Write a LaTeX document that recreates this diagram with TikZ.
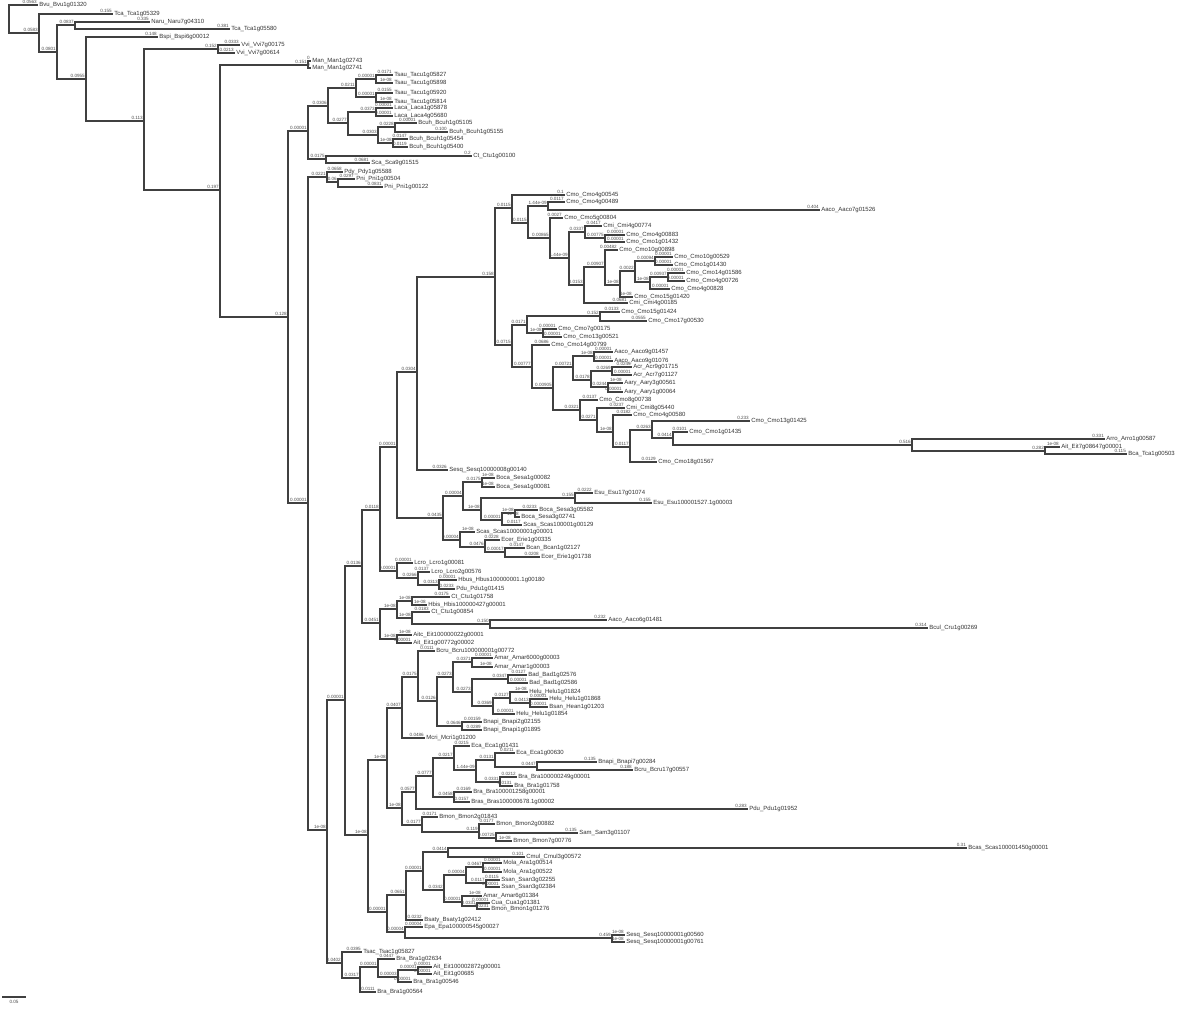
\documentclass[tikz,border=0pt]{standalone}
\usepackage{fontspec}
\setmainfont{Liberation Sans}

\begin{document}
\begin{tikzpicture}[x=0.5pt,y=-0.5pt]
 \tikzstyle{every path}=[line width=0.6pt]

\tikzstyle{branch}=[draw=black!75]
\tikzstyle{redmark}=[fill=red!80!black,inner sep=0pt,minimum size=1.1pt]
\tikzstyle{bluemark}=[fill=blue!80!black,inner sep=0pt,minimum width=1pt,minimum height=0.9pt]
\tikzstyle{tnode}=[inner sep=0pt,outer sep=0pt,minimum size=0pt,label={[redmark]below:{}}]
\tikzstyle{tipname}=[anchor=west,inner sep=0.4pt,font=\fontsize{3.0}{3.4}\selectfont,text=black!80,label={[bluemark]west:{}}]
\tikzstyle{blen}=[anchor=south east,inner sep=0.3pt,font=\fontsize{2.3}{2.6}\selectfont,text=black!70]

\useasboundingbox (0,0) rectangle (1200,1008);
\fill[white] (0,0) rectangle (1200,1008);

%% inner nodes of the tree
\foreach \nm/\px/\py in {root/9/19, a/39/33, b/57/52, c/75/25, d/86/79, e/144/121, f/218/49, g/220/190,
  h/308/65, i/288/317, j/308/131, k/328/106, l/356/88, la/376/79, lb/376/97, m/348/123, ma/376/112,
  mb/378/135, mc/395/127, md/393/143, n/326/159, p/308/503, o/327/177, oa/338/182, q/327/830,
  r/345/700, x1/362/566, w1/380/510, v1/397/447, u1/417/372,
  c0/495/277, c1/512/208, c3/528/223, c4/548/206, c5/550/238, c6/569/258, c7/585/232, c9/605/238,
  c8/584/285, c10/605/267, c11/620/285, c12/635/271, c13/655/261, c14/650/282, c15/668/277,
  c2/512/345, c16/527/325, c18/600/316, c19/543/333, c17/532/367, c20/553/388, c21/573/367,
  c23/594/356, c24/591/380, c25/612/371, c26/608/387, c22/580/410, c27/597/420, c28/613/432,
  c29/630/447, c30/652/430, c31/673/438, c32/912/445, c33/1045/451,
  v2/443/518, v3/463/496, v5/482/482, v6/481/510, v7/575/498, v8/502/520, v9/515/513,
  v4/460/540, v10/485/547, v11/505/552, l1x/397/571, l2x/418/578, l3x/439/585,
  y1/380/623, y2/397/609, y4/412/601, y5/412/618, y6/490/624, y3/397/639,
  s/368/835, t/387/760, v/402/708, xx/418/677, yy/437/701, z/453/677, z1/472/662, z2/472/692,
  z4/508/679, z3/493/706, z5/510/698, z6/530/703, aa/462/726,
  w/402/808, w0/416/792, wa/433/776, wb/454/758, wd/476/770, we/495/760, wg/537/767, wf/500/782,
  wc/454/797, w9/422/825, w10/479/832, w11/496/838,
  u/387/912, ua/406/895, uc/423/871, ud/448/852, ue/444/890, uf/466/875, uh/483/867, ui/486/883,
  ug/462/902, uj/477/906, ub/405/932, uk/612/938,
  q2/342/963, q3/360/978, q4/378/967, q5/398/977, q6/418/970}
  \node[tnode] (\nm) at (\px,\py) {};

%% leaves
\foreach \nm/\px/\py/\txt in {t01/38/5/Bvu\_Bvu1g01320, t02/113/14/Tca\_Tca1g05329, t03/150/22/Naru\_Naru7g04310,
  t04/230/29/Tca\_Tca1g05580, t05/158/37/Bspi\_Bspi6g00012, t06/240/45/Vvi\_Vvi7g00175, t07/235/53/Vvi\_Vvi7g00614,
  t08/311/61/Man\_Man1g02743, t09/311/68/Man\_Man1g02741, t10/393/75/Tsau\_Tacu1g05827, t11/393/83/Tsau\_Tacu1g05898,
  t12/393/93/Tsau\_Tacu1g05920, t13/393/102/Tsau\_Tacu1g05814, t14/393/108/Laca\_Laca1g05878,
  t15/393/116/Laca\_Laca4g05680, t16/417/123/Bcuh\_Bcuh1g05105, t17/448/132/Bcuh\_Bcuh1g05155,
  t18/408/139/Bcuh\_Bcuh1g05454, t19/408/147/Bcuh\_Bcuh1g05400, t20/472/156/Ct\_Ctu1g00100,
  t21/370/163/Sca\_Sca9g01515, t22/343/172/Pdy\_Pdy1g05588, t23/355/179/Pni\_Pni1g00504, t24/383/187/Pni\_Pni1g00122,
  t25/565/195/Cmo\_Cmo4g00545, t26/565/202/Cmo\_Cmo4g00489, t27/820/210/Aaco\_Aaco7g01526,
  t28/563/218/Cmo\_Cmo5g00804, t29/602/226/Cmi\_Cmi4g00774, t30/625/235/Cmo\_Cmo4g00883,
  t31/625/242/Cmo\_Cmo1g01432, t32/618/250/Cmo\_Cmo10g00898, t33/673/257/Cmo\_Cmo10g00529,
  t34/673/265/Cmo\_Cmo1g01430, t35/685/273/Cmo\_Cmo14g01586, t36/685/281/Cmo\_Cmo4g00726,
  t37/670/289/Cmo\_Cmo4g00828, t38/633/297/Cmo\_Cmo15g01420, t39/628/303/Cmi\_Cmi4g00185,
  t40/620/312/Cmo\_Cmo15g01424, t41/647/321/Cmo\_Cmo17g00530, t42/557/329/Cmo\_Cmo7g00175,
  t43/562/337/Cmo\_Cmo13g00521, t44/550/345/Cmo\_Cmo14g00799, t45/613/352/Aaco\_Aaco9g01457,
  t46/613/361/Aaco\_Aaco9g01076, t47/632/367/Acr\_Acr9g01715, t48/632/375/Acr\_Acr7g01127,
  t49/623/383/Aary\_Aary3g00561, t50/623/392/Aary\_Aary1g00064, t51/598/400/Cmo\_Cmo8g00738,
  t52/625/408/Cmi\_Cmi8g05440, t53/632/415/Cmo\_Cmo4g00580, t54/750/421/Cmo\_Cmo13g01425,
  t55/688/432/Cmo\_Cmo1g01435, t56/1105/439/Arro\_Arro1g00587, t57/1060/447/Ait\_Eit7g08647g00001,
  t58/1127/454/Bca\_Tca1g00503, t59/657/462/Cmo\_Cmo18g01567, t60/448/470/Sesq\_Sesq10000008g00140,
  t61/495/478/Boca\_Sesa1g00082, t62/495/487/Boca\_Sesa1g00081, t63/593/493/Esu\_Esu17g01074,
  t64/652/503/Esu\_Esu100001527.1g00003, t65/538/510/Boca\_Sesa3g05582, t66/520/517/Boca\_Sesa3g02741,
  t67/522/525/Scas\_Scas100001g00129, t68/475/532/Scas\_Scas10000001g00001, t69/500/540/Ecer\_Erie1g00335,
  t70/525/548/Bcan\_Bcan1g02127, t71/540/557/Ecer\_Erie1g01738, t72/413/563/Lcro\_Lcro1g00081,
  t73/430/572/Lcro\_Lcro2g00576, t74/457/580/Hbus\_Hbus100000001.1g00180, t75/455/589/Pdu\_Pdu1g01415,
  t76/450/597/Ct\_Ctu1g01758, t77/427/605/Hbis\_Hbis100000427g00001, t78/430/612/Ct\_Ctu1g00854,
  t79/607/620/Aaco\_Aaco6g01481, t80/928/628/Bcul\_Cru1g00269, t81/412/635/Aitc\_Eit100000022g00001,
  t82/412/643/Ait\_Eit1g00772g00002, t83/435/651/Bcru\_Bcru100000001g00772, t84/493/658/Amar\_Amar6000g00003,
  t85/493/667/Amar\_Amar1g00003, t86/527/675/Bad\_Bad1g02576, t87/528/683/Bad\_Bad1g02586,
  t88/528/692/Helu\_Helu1g01824, t89/548/699/Helu\_Helu1g01868, t90/548/707/Bsan\_Hean1g01203,
  t91/515/714/Helu\_Helu1g01854, t92/482/722/Bnapi\_Bnapi2g02155, t93/482/730/Bnapi\_Bnapi1g01895,
  t94/425/738/Mcri\_Mcri1g01200, t95/470/746/Eca\_Eca1g01431, t96/515/753/Eca\_Eca1g00630,
  t97/597/762/Bnapi\_Bnapi7g00284, t98/633/770/Bcru\_Bcru17g00557, t99/517/777/Bra\_Bra100000249g00001,
  t100/513/786/Bra\_Bra1g01758, t101/472/792/Bra\_Bra100001258g00001, t102/470/802/Bras\_Bras100000678.1g00002,
  t103/748/809/Pdu\_Pdu1g01952, t104/438/817/Bmon\_Bmon2g01843, t105/495/824/Bmon\_Bmon2g00882,
  t106/578/833/Sam\_Sam3g01107, t107/512/841/Bmon\_Bmon7g00776, t108/967/848/Bcas\_Scas100001450g00001,
  t109/525/857/Cmul\_Cmul3g00572, t110/502/863/Mola\_Ara1g00514, t111/502/872/Mola\_Ara1g00522,
  t112/500/880/Ssan\_Ssan3g02255, t113/500/887/Ssan\_Ssan3g02384, t114/482/896/Amar\_Amar6g01384,
  t115/490/903/Cua\_Cua1g01381, t116/490/909/Bmon\_Bmon1g01276, t117/423/920/Bsaty\_Bsaty1g02412,
  t118/423/927/Epa\_Epa100000545g00027, t119/625/935/Sesq\_Sesq10000001g00560, t120/625/942/Sesq\_Sesq10000001g00761,
  t121/362/952/Tsac\_Tsac1g05827, t122/395/959/Bra\_Bra1g02634, t123/432/967/Ait\_Eit100002872g00001,
  t124/432/974/Ait\_Eit1g00685, t125/412/982/Bra\_Bra1g00546, t126/376/992/Bra\_Bra1g00564}
  \node[tipname] (\nm) at (\px,\py) {\txt};

%% branches with their lengths
\foreach \pa/\ch/\bl in {root/t01/0.0563, root/a/0.0583, a/t02/0.155, a/b/0.0801, b/c/0.0837, b/d/0.0955,
  c/t03/0.335, c/t04/0.381, d/t05/0.148, d/e/0.113, e/f/0.152, e/g/0.197, f/t06/0.0333, f/t07/0.0213,
  g/h/0.151, g/i/0.128, h/t08/0, h/t09/0, i/j/0.00001, i/p/0.00001, j/k/0.0306, j/n/0.0175,
  k/l/0.0211, k/m/0.0277, l/la/0.00001, l/lb/0.00001, la/t10/0.0171, la/t11/1e-08, lb/t12/0.0155, lb/t13/1e-08,
  m/ma/0.0373, m/mb/0.0303, ma/t14/0.00001, ma/t15/0.00001, mb/mc/0.0228, mb/md/1e-08,
  mc/t16/0.00001, mc/t17/0.100, md/t18/0.0147, md/t19/0.0119, n/t20/0.2, n/t21/0.0681,
  p/o/0.0221, p/q/1e-08, o/t22/0.0658, o/oa/0.06, oa/t23/0.0297, oa/t24/0.0831,
  q/r/0.00001, q/q2/0.0402, r/x1/0.0136, r/s/1e-08, x1/w1/0.0118, x1/y1/0.0451,
  w1/v1/0.00001, w1/l1x/0.00001, v1/u1/0.0304, v1/v2/0.0435, u1/c0/0.158, u1/t60/0.0326,
  c0/c1/0.0115, c0/c2/0.0715, c1/t25/0.1, c1/c3/0.0115, c3/c4/1.44e-09, c3/c5/0.00865,
  c4/t26/0.0117, c4/t27/0.404, c5/t28/0.0027, c5/c6/1.44e-09, c6/c7/0.0337, c6/c8/0.0153,
  c7/t29/0.0417, c7/c9/0.00775, c9/t30/0.00001, c9/t31/0.00001, c8/c10/0.00907, c8/t39/0.0681,
  c10/t32/0.00482, c10/c11/1e-08, c11/c12/0.0022, c11/t38/1e-08, c12/c13/0.00094, c12/c14/1e-08,
  c13/t33/0.00001, c13/t34/0.00001, c14/c15/0.00937, c14/t37/0.00001, c15/t35/0.00001, c15/t36/0.00001,
  c2/c16/0.0171, c2/c17/0.00777, c16/c18/0.152, c16/c19/1e-08, c18/t40/0.0133, c18/t41/0.0555,
  c19/t42/0.00001, c19/t43/0.00001, c17/t44/0.0686, c17/c20/0.00905, c20/c21/0.00721, c20/c22/0.0321,
  c21/c23/1e-08, c21/c24/0.0178, c23/t45/0.00001, c23/t46/0.00001, c24/c25/0.0269, c24/c26/0.0244,
  c25/t47/0.0245, c25/t48/0.00001, c26/t49/1e-08, c26/t50/0.00001, c22/t51/0.0137, c22/c27/0.0271,
  c27/t52/0.0237, c27/c28/1e-08, c28/t53/0.0182, c28/c29/0.0117, c29/c30/0.0263, c29/t59/0.0129,
  c30/t54/0.233, c30/c31/0.0414, c31/t55/0.0101, c31/c32/0.516, c32/t56/0.331, c32/c33/0.282,
  c33/t57/1e-08, c33/t58/0.115,
  v2/v3/0.00004, v2/v4/0.00004, v3/v5/0.0175, v3/v6/1e-08, v5/t61/1e-08, v5/t62/1e-08,
  v6/v7/0.155, v6/v8/0.00001, v7/t63/0.0222, v7/t64/0.155, v8/v9/1e-08, v8/t67/0.0117,
  v9/t65/0.0233, v9/t66/1e-08, v4/t68/1e-08, v4/v10/0.0476, v10/t69/0.0228, v10/v11/0.00017,
  v11/t70/0.0147, v11/t71/0.0208, l1x/t72/0.00001, l1x/l2x/0.0266, l2x/t73/0.0137, l2x/l3x/0.0313,
  l3x/t74/0.00001, l3x/t75/0.0233, y1/y2/1e-08, y1/y3/1e-08, y2/y4/1e-08, y2/y5/1e-08,
  y4/t76/0.0175, y4/t77/1e-08, y5/t78/0.0183, y5/y6/0.150, y6/t79/0.232, y6/t80/0.314,
  y3/t81/1e-08, y3/t82/0.00001,
  s/t/1e-08, s/u/0.00001, t/v/0.0407, t/w/1e-08, v/xx/0.0175, v/t94/0.0486,
  xx/t83/0.0111, xx/yy/0.0126, yy/z/0.0273, yy/aa/0.0646, z/z1/0.0371, z/z2/0.0273,
  z1/t84/0.00001, z1/t85/1e-08, z2/z4/0.0347, z2/z3/0.0369, z4/t86/0.0127, z4/t87/0.00001,
  z3/z5/0.0127, z3/t91/0.00001, z5/t88/1e-08, z5/z6/0.0413, z6/t89/0.00001, z6/t90/0.00001,
  aa/t92/0.00159, aa/t93/0.0289,
  w/w0/0.0577, w/w9/0.0177, w0/wa/0.0777, w0/t103/0.283, wa/wb/0.0217, wa/wc/0.0458,
  wb/t95/0.0215, wb/wd/1.44e-09, wd/we/0.0131, wd/wf/0.0331, we/t96/0.0211, we/wg/0.0447,
  wg/t97/0.135, wg/t98/0.188, wf/t99/0.0212, wf/t100/0.0131, wc/t101/0.0169, wc/t102/0.0157,
  w9/t104/0.0171, w9/w10/0.119, w10/t105/0.0177, w10/w11/0.00725, w11/t106/0.135, w11/t107/1e-08,
  u/ua/0.0651, u/ub/0.00004, ua/uc/0.00001, ua/t117/0.0232, uc/ud/0.0414, uc/ue/0.0342,
  ud/t108/0.31, ud/t109/0.101, ue/uf/0.00004, ue/ug/0.00001, uf/uh/0.0467, uf/ui/0.0117,
  uh/t110/0.00001, uh/t111/0.00001, ui/t112/0.0115, ui/t113/0.00001, ug/t114/1e-08, ug/uj/0.0331,
  uj/t115/0.00001, uj/t116/0.0231, ub/t118/0.00004, ub/uk/0.459, uk/t119/1e-08, uk/t120/1e-08,
  q2/t121/0.0395, q2/q3/0.0317, q3/q4/0.00001, q3/t126/0.0111, q4/t122/0.0447, q4/q5/0.00003,
  q5/q6/0.00001, q5/t125/0.00001, q6/t123/0.00001, q6/t124/0.00001}
  \draw[branch] (\pa) |- (\ch.west) node[blen] {\bl};

%% scale bar
\coordinate (sb0) at (2,997);
\coordinate (sb1) at (26,997);
\draw[branch] (sb0) -- (sb1);
\node[blen,anchor=north] (sbl) at (14,999) {0.05};

\end{tikzpicture}
\end{document}
